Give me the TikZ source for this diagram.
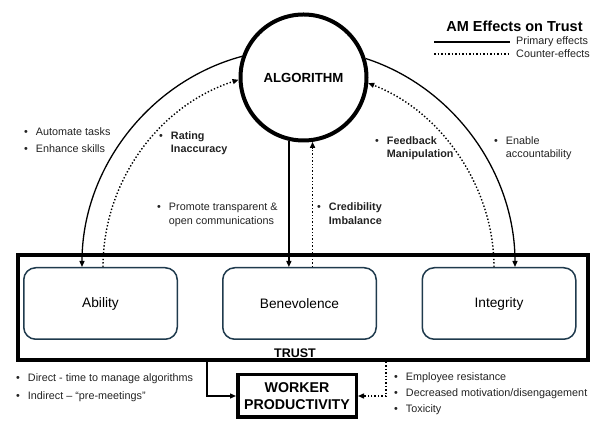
\documentclass[tikz,border=0pt]{standalone}
\usepackage{fontspec}
\setmainfont{Liberation Sans}
\usetikzlibrary{arrows.meta}
\definecolor{boxline}{HTML}{1F3A4D}
\definecolor{notetext}{HTML}{222222}
\newcommand{\fsz}[2]{\fontsize{#1}{#2}\selectfont}
\newcommand{\notelist}[1]{\begin{tabular}{@{}l@{\hspace{8pt}}l@{}}#1\end{tabular}}

\begin{document}
\begin{tikzpicture}[x=1pt,y=1pt,
  trait/.style={draw=boxline, line width=1.5pt, rounded corners=12pt,
    minimum width=153.5pt, minimum height=71.5pt, inner sep=0pt, font=\fsz{13.7}{16}},
  heavybox/.style={draw=black, line width=3.5pt, inner sep=0pt},
  note/.style={anchor=west, inner sep=0pt, text=notetext, font=\fsz{10.8}{13}},
  tipshape/.style={-{Triangle[length=6pt,width=5pt]}},
  primary/.style={line width=1.3pt, tipshape},
  counter/.style={line width=1.4pt, dotted, tipshape},
]
\useasboundingbox (0,0) rectangle (597,422);

% trust frame and its three components
\node[heavybox, line width=4pt, minimum width=570pt, minimum height=105pt] (trust) at (303,114.5) {};
\node[trait] (ability) at (100.5,118.5) {Ability};
\node[trait] (ben) at (299.5,118.5) {Benevolence};
\node[trait] (integ) at (499,118.5) {Integrity};
\node[font=\bfseries\fsz{12.5}{15}, inner sep=0pt] (trustlbl) at (295,69) {TRUST};

% algorithm and outcome
\node[circle, draw, line width=4pt, minimum size=126pt, inner sep=0pt,
  font=\bfseries\fsz{13.2}{16}] (alg) at (303.5,344.5) {ALGORITHM};
\node[heavybox, minimum width=118.5pt, minimum height=42.5pt, align=center,
  font=\bfseries\fsz{14.2}{17}] (worker) at (297,26) {WORKER\\PRODUCTIVITY};

% effects of the algorithm on the trust components
\draw[primary] (alg.161) to[out=195,in=90,looseness=0.94] ([xshift=-18.5pt]ability.north);
\draw[counter] ([xshift=2.5pt]ability.north) to[out=90,in=198,looseness=0.94] (alg.182);
\draw[primary] (alg.17) to[out=-18,in=90,looseness=0.93] ([xshift=16pt]integ.north);
\draw[counter] ([xshift=-5pt]integ.north) to[out=90,in=-21,looseness=0.91] (alg.355);
\draw[primary] (alg.257) -- (alg.257 |- ben.north);
\draw[counter] (alg.278 |- ben.north) -- (alg.278);

% trust to productivity
\draw[primary] ([xshift=-96pt]trust.south) |- (worker.west);
\draw[counter] ([xshift=83pt]trust.south) |- (worker.east);

% annotations
\node[note] (n1) at (24,280.5) {\notelist{• & Automate tasks\\[4pt] • & Enhance skills}};
\node[note] (n2) at (159,278.5) {\notelist{• & \textbf{Rating}\\ & \textbf{Inaccuracy}}};
\node[note] (n3) at (157,207) {\notelist{• & Promote transparent \&\\[1pt] & open communications}};
\node[note] (n4) at (317,207) {\notelist{• & \textbf{Credibility}\\[1pt] & \textbf{Imbalance}}};
\node[note] (n5) at (375,273.5) {\notelist{• & \textbf{Feedback}\\ & \textbf{Manipulation}}};
\node[note] (n6) at (494,273.5) {\notelist{• & Enable\\ & accountability}};
\node[note] (n7) at (16,34) {\notelist{• & Direct - time to manage algorithms\\[5pt] • & Indirect – “pre-meetings”}};
\node[note] (n8) at (394,28) {\notelist{• & Employee resistance\\[3pt] • & Decreased motivation/disengagement\\[3pt] • & Toxicity}};

% legend
\node[font=\bfseries\fsz{14.5}{17}, inner sep=0pt] (legtitle) at (514.5,396) {AM Effects on Trust};
\coordinate (solidA) at (434,380);
\coordinate (solidB) at (510,380);
\coordinate (dotA) at (434,368);
\coordinate (dotB) at (510,368);
\draw[line width=1.5pt] (solidA) -- (solidB);
\draw[line width=1.5pt, dotted] (dotA) -- (dotB);
\node[note] (primlbl) at ([xshift=6pt]solidB) {Primary effects};
\node[note] (counterlbl) at ([xshift=6pt]dotB) {Counter-effects};
\end{tikzpicture}
\end{document}
